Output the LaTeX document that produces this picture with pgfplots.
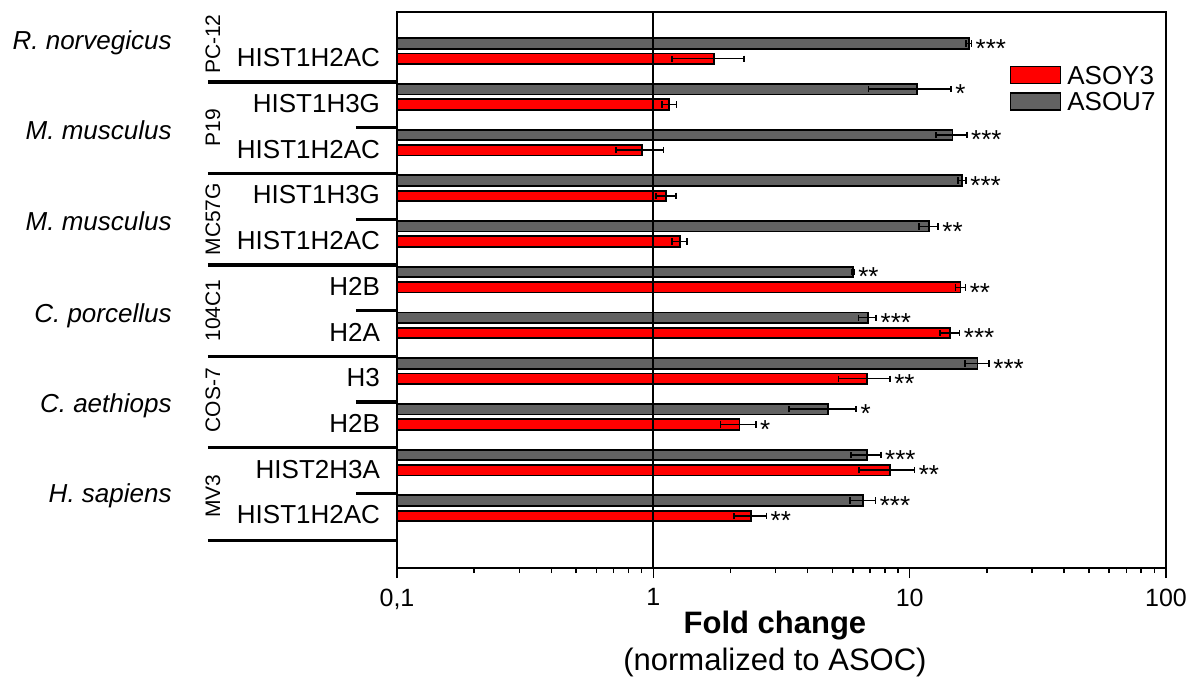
\documentclass[border=0pt]{standalone}
\usepackage{pgfplots}
\pgfplotsset{compat=1.18}
\usepackage{fontspec}
\setmainfont{Liberation Sans}

\definecolor{asoy}{RGB}{255,0,0}
\definecolor{asou}{RGB}{98,98,98}

% significance stars, placed after the right end of the error bar
\newcommand{\sig}[3]{\node[anchor=west, font=\fontsize{13}{15}\selectfont, inner sep=2pt, yshift=-2.4pt] at (axis cs:#1,#2) {#3};}
% long / short group separators left of the axis
\newcommand{\sepline}[2]{\draw[line width=1.6pt] ([xshift=-#1]axis cs:0.1,#2) -- (axis cs:0.1,#2);}

\begin{document}
\begin{tikzpicture}
\begin{axis}[
    scale only axis, width=384.5pt, height=278pt,
    xmode=log, xmin=0.1, xmax=100, log origin x=infty,
    ymin=0.147, ymax=12.31, y dir=reverse,
    xbar, bar width=0.23,
    legend image code/.code={\draw[#1] (0pt,-4.25pt) rectangle (25pt,4.25pt);},
    clip=false,
    axis line style={line width=1pt},
    tick align=outside, xtick pos=bottom, ytick pos=left,
    major tick length=5pt, minor tick length=2.5pt,
    tick style={black, line width=0.75pt},
    log ticks with fixed point,
    /pgf/number format/use comma,
    /pgf/number format/assume math mode=true,
    xticklabel style={font=\fontsize{12.5}{14}\selectfont, yshift=-1.8pt},
    ytick={1,...,11},
    yticklabels={HIST1H2AC,HIST1H3G,HIST1H2AC,HIST1H3G,HIST1H2AC,H2B,H2A,H3,H2B,HIST2H3A,HIST1H2AC},
    ytick style={draw=none},
    yticklabel style={font=\fontsize{13}{15}\selectfont, yshift=-3.4pt},
    xlabel={\textbf{Fold change}\\(normalized to ASOC)},
    xlabel style={at={(axis description cs:0.4915,0)}, anchor=north, align=center,
        inner sep=0pt, yshift=-21.5pt, font=\fontsize{15.5}{18.25}\selectfont},
    legend style={at={(0.796,0.906)}, anchor=north west, draw=none, fill=none,
        inner sep=0pt, row sep=3pt, font=\fontsize{13}{15}\selectfont,
        nodes={inner ysep=0.5pt, inner xsep=3pt, text height=9.3pt, text depth=0pt}},
    legend cell align=left,
]
% ASOY3 (red)
\addplot[fill=asoy, draw=black, line width=0.9pt, bar shift=0.17,
    error bars/.cd, x dir=both, x explicit, error mark=|,
    error bar style={black, line width=0.7pt},
    error mark options={black, mark size=1.6pt, line width=0.8pt}] coordinates {
    (1.72,1) +- (0.54,0)
    (1.155,2) +- (0.075,0)
    (0.905,3) +- (0.19,0)
    (1.124,4) +- (0.10,0)
    (1.27,5) +- (0.085,0)
    (15.8,6) +- (0.7,0)
    (14.4,7) +- (1.25,0)
    (6.82,8) +- (1.55,0)
    (2.17,9) +- (0.34,0)
    (8.38,10) +- (2.05,0)
    (2.41,11) +- (0.35,0)
};
\addlegendentry{ASOY3}
% ASOU7 (grey)
\addplot[fill=asou, draw=black, line width=0.9pt, bar shift=-0.165,
    error bars/.cd, x dir=both, x explicit, error mark=|,
    error bar style={black, line width=0.7pt},
    error mark options={black, mark size=1.6pt, line width=0.8pt}] coordinates {
    (17.0,1) +- (0.4,0)
    (10.7,2) +- (3.8,0)
    (14.7,3) +- (2.0,0)
    (16.0,4) +- (0.6,0)
    (11.9,5) +- (1.0,0)
    (6.0,6) +- (0.06,0)
    (6.86,7) +- (0.55,0)
    (18.4,8) +- (2.0,0)
    (4.79,9) +- (1.4,0)
    (6.82,10) +- (0.9,0)
    (6.6,11) +- (0.75,0)
};
\addlegendentry{ASOU7}

% reference line at fold change 1
\draw[line width=0.9pt] (axis cs:1,0.147) -- (axis cs:1,12.31);

% stars, ASOU7
\sig{17.4}{0.835}{***}
\sig{14.5}{1.835}{*}
\sig{16.7}{2.835}{***}
\sig{16.6}{3.835}{***}
\sig{12.9}{4.835}{**}
\sig{6.06}{5.835}{**}
\sig{7.41}{6.835}{***}
\sig{20.4}{7.835}{***}
\sig{6.19}{8.835}{*}
\sig{7.72}{9.835}{***}
\sig{7.35}{10.835}{***}
% stars, ASOY3
\sig{16.5}{6.17}{**}
\sig{15.65}{7.17}{***}
\sig{8.37}{8.17}{**}
\sig{2.51}{9.17}{*}
\sig{10.43}{10.17}{**}
\sig{2.76}{11.17}{**}

% group separators
\sepline{94.5pt}{1.68}
\sepline{20.5pt}{2.68}
\sepline{94.5pt}{3.68}
\sepline{20.5pt}{4.68}
\sepline{94.5pt}{5.68}
\sepline{20.5pt}{6.68}
\sepline{94.5pt}{7.68}
\sepline{20.5pt}{8.68}
\sepline{94.5pt}{9.68}
\sepline{20.5pt}{10.68}
\sepline{94.5pt}{11.70}

% cell lines
\begin{scope}[every node/.style={rotate=90, font=\fontsize{10.5}{12}\selectfont, inner sep=0pt}]
\node at ([xshift=-92pt]axis cs:0.1,0.85) {PC-12};
\node at ([xshift=-92pt]axis cs:0.1,2.68) {P19};
\node at ([xshift=-92pt]axis cs:0.1,4.68) {MC57G};
\node at ([xshift=-92pt]axis cs:0.1,6.68) {104C1};
\node at ([xshift=-92pt]axis cs:0.1,8.64) {COS-7};
\node at ([xshift=-92pt]axis cs:0.1,10.74) {MV3};
\end{scope}

% species
\begin{scope}[every node/.style={anchor=east, font=\fontsize{13}{15}\selectfont\itshape, inner sep=0pt, text depth=0pt}]
\node at ([xshift=-112.5pt]axis cs:0.1,0.76) {R. norvegicus};
\node at ([xshift=-112.5pt]axis cs:0.1,2.73) {M. musculus};
\node at ([xshift=-112.5pt]axis cs:0.1,4.73) {M. musculus};
\node at ([xshift=-112.5pt]axis cs:0.1,6.74) {C. porcellus};
\node at ([xshift=-112.5pt]axis cs:0.1,8.71) {C. aethiops};
\node at ([xshift=-112.5pt]axis cs:0.1,10.68) {H. sapiens};
\end{scope}
\end{axis}
\pgfresetboundingbox
\path ([xshift=-198.5pt,yshift=-54pt]current axis.south west) rectangle ([xshift=15pt,yshift=6pt]current axis.north east);
\end{tikzpicture}
\end{document}
